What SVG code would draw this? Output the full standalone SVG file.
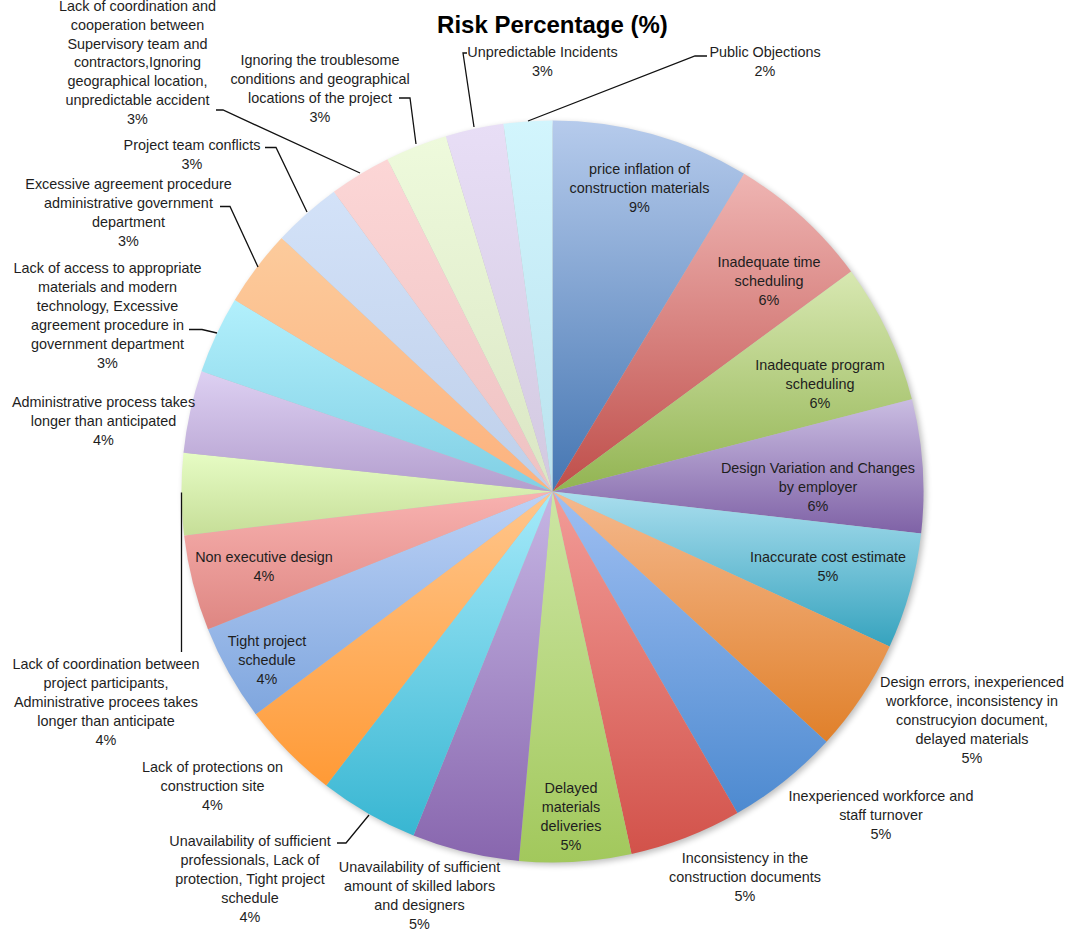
<svg xmlns="http://www.w3.org/2000/svg" width="1073" height="932" viewBox="0 0 1073 932">
  <style>
    text { font-family: "Liberation Sans", Arial, sans-serif; font-size: 14.4px; fill: #1e1e1e; text-anchor: middle; }
    .title { font-size: 24px; font-weight: bold; fill: #000; }
    .lead { fill: none; stroke: #111; stroke-width: 1.3; }
  </style>
  <defs>
    <filter id="pieShadow" x="-10%" y="-10%" width="120%" height="120%">
      <feGaussianBlur stdDeviation="3"/>
    </filter>
    <linearGradient id="g01" x1="0" y1="0" x2="0" y2="1"><stop offset="0" stop-color="#b6cbec"/><stop offset="1" stop-color="#4576b2"/></linearGradient>
    <linearGradient id="g02" x1="0" y1="0" x2="0" y2="1"><stop offset="0" stop-color="#efb5b3"/><stop offset="1" stop-color="#bf4e4a"/></linearGradient>
    <linearGradient id="g03" x1="0" y1="0" x2="0" y2="1"><stop offset="0" stop-color="#d8e8b2"/><stop offset="1" stop-color="#92b452"/></linearGradient>
    <linearGradient id="g04" x1="0" y1="0" x2="0" y2="1"><stop offset="0" stop-color="#cabde2"/><stop offset="1" stop-color="#7f62a6"/></linearGradient>
    <linearGradient id="g05" x1="0" y1="0" x2="0" y2="1"><stop offset="0" stop-color="#aadeee"/><stop offset="1" stop-color="#36a3be"/></linearGradient>
    <linearGradient id="g06" x1="0" y1="0" x2="0" y2="1"><stop offset="0" stop-color="#f5b98e"/><stop offset="1" stop-color="#e0802a"/></linearGradient>
    <linearGradient id="g07" x1="0" y1="0" x2="0" y2="1"><stop offset="0" stop-color="#9fbff2"/><stop offset="1" stop-color="#4d8ad0"/></linearGradient>
    <linearGradient id="g08" x1="0" y1="0" x2="0" y2="1"><stop offset="0" stop-color="#f29c98"/><stop offset="1" stop-color="#d2524a"/></linearGradient>
    <linearGradient id="g09" x1="0" y1="0" x2="0" y2="1"><stop offset="0" stop-color="#cde6a4"/><stop offset="1" stop-color="#a2c85c"/></linearGradient>
    <linearGradient id="g10" x1="0" y1="0" x2="0" y2="1"><stop offset="0" stop-color="#c6b6e4"/><stop offset="1" stop-color="#8866ae"/></linearGradient>
    <linearGradient id="g11" x1="0" y1="0" x2="0" y2="1"><stop offset="0" stop-color="#a6eafa"/><stop offset="1" stop-color="#38b6d2"/></linearGradient>
    <linearGradient id="g12" x1="0" y1="0" x2="0" y2="1"><stop offset="0" stop-color="#ffc68c"/><stop offset="1" stop-color="#ff9a36"/></linearGradient>
    <linearGradient id="g13" x1="0" y1="0" x2="0" y2="1"><stop offset="0" stop-color="#bcd2f6"/><stop offset="1" stop-color="#7fa6de"/></linearGradient>
    <linearGradient id="g14" x1="0" y1="0" x2="0" y2="1"><stop offset="0" stop-color="#f8b2b0"/><stop offset="1" stop-color="#de8682"/></linearGradient>
    <linearGradient id="g15" x1="0" y1="0" x2="0" y2="1"><stop offset="0" stop-color="#e6fcc4"/><stop offset="1" stop-color="#c6de98"/></linearGradient>
    <linearGradient id="g16" x1="0" y1="0" x2="0" y2="1"><stop offset="0" stop-color="#ddd0f2"/><stop offset="1" stop-color="#b39ece"/></linearGradient>
    <linearGradient id="g17" x1="0" y1="0" x2="0" y2="1"><stop offset="0" stop-color="#b2f0fc"/><stop offset="1" stop-color="#80cfe4"/></linearGradient>
    <linearGradient id="g18" x1="0" y1="0" x2="0" y2="1"><stop offset="0" stop-color="#fccb9c"/><stop offset="1" stop-color="#fcb27e"/></linearGradient>
    <linearGradient id="g19" x1="0" y1="0" x2="0" y2="1"><stop offset="0" stop-color="#d3e2f8"/><stop offset="1" stop-color="#becfea"/></linearGradient>
    <linearGradient id="g20" x1="0" y1="0" x2="0" y2="1"><stop offset="0" stop-color="#fcd6d6"/><stop offset="1" stop-color="#eec2c2"/></linearGradient>
    <linearGradient id="g21" x1="0" y1="0" x2="0" y2="1"><stop offset="0" stop-color="#eefadc"/><stop offset="1" stop-color="#dae6c4"/></linearGradient>
    <linearGradient id="g22" x1="0" y1="0" x2="0" y2="1"><stop offset="0" stop-color="#e8def6"/><stop offset="1" stop-color="#d2c9e0"/></linearGradient>
    <linearGradient id="g23" x1="0" y1="0" x2="0" y2="1"><stop offset="0" stop-color="#d2f5fd"/><stop offset="1" stop-color="#bae2ee"/></linearGradient>
  </defs>

  <rect width="1073" height="932" fill="#fff"/>

  <text class="title" x="552.5" y="33">Risk Percentage (%)</text>

  <!-- soft shadow under the pie -->
  <circle cx="555" cy="494" r="371" fill="#000" opacity="0.26" filter="url(#pieShadow)"/>

  <g id="slices">
    <g id="s01"><path d="M552.5,491.5 L552.5,120.5 A371,371 0 0,1 744.1,173.8 Z" fill="url(#g01)"/>
      <text x="639.5" y="174">price inflation of</text><text x="639.5" y="193">construction materials</text><text x="639.5" y="212">9%</text></g>
    <g id="s02"><path d="M552.5,491.5 L744.1,173.8 A371,371 0 0,1 851.1,271.4 Z" fill="url(#g02)"/>
      <text x="769" y="267">Inadequate time</text><text x="769" y="286">scheduling</text><text x="769" y="305">6%</text></g>
    <g id="s03"><path d="M552.5,491.5 L851.1,271.4 A371,371 0 0,1 911.9,399.2 Z" fill="url(#g03)"/>
      <text x="820" y="370">Inadequate program</text><text x="820" y="389">scheduling</text><text x="820" y="408">6%</text></g>
    <g id="s04"><path d="M552.5,491.5 L911.9,399.2 A371,371 0 0,1 921.1,533.5 Z" fill="url(#g04)"/>
      <text x="818" y="473">Design Variation and Changes</text><text x="818" y="492">by employer</text><text x="818" y="511">6%</text></g>
    <g id="s05"><path d="M552.5,491.5 L921.1,533.5 A371,371 0 0,1 889.6,646.5 Z" fill="url(#g05)"/>
      <text x="828" y="562">Inaccurate cost estimate</text><text x="828" y="581">5%</text></g>
    <g id="s06"><path d="M552.5,491.5 L889.6,646.5 A371,371 0 0,1 826.5,741.7 Z" fill="url(#g06)"/>
      <text x="972" y="687">Design errors, inexperienced</text><text x="972" y="706">workforce, inconsistency in</text><text x="972" y="725">construcyion document,</text><text x="972" y="744">delayed materials</text><text x="972" y="763">5%</text></g>
    <g id="s07"><path d="M552.5,491.5 L826.5,741.7 A371,371 0 0,1 737.4,813.1 Z" fill="url(#g07)"/>
      <text x="881" y="801">Inexperienced workforce and</text><text x="881" y="820">staff turnover</text><text x="881" y="839">5%</text></g>
    <g id="s08"><path d="M552.5,491.5 L737.4,813.1 A371,371 0 0,1 631.5,854.0 Z" fill="url(#g08)"/>
      <text x="745" y="863">Inconsistency in the</text><text x="745" y="882">construction documents</text><text x="745" y="901">5%</text></g>
    <g id="s09"><path d="M552.5,491.5 L631.5,854.0 A371,371 0 0,1 518.9,861.0 Z" fill="url(#g09)"/>
      <text x="571" y="793">Delayed</text><text x="571" y="812">materials</text><text x="571" y="831">deliveries</text><text x="571" y="850">5%</text></g>
    <g id="s10"><path d="M552.5,491.5 L518.9,861.0 A371,371 0 0,1 413.5,835.5 Z" fill="url(#g10)"/>
      <text x="419.5" y="872">Unavailability of sufficient</text><text x="419.5" y="891">amount of skilled labors</text><text x="419.5" y="910">and designers</text><text x="419.5" y="929">5%</text></g>
    <g id="s11"><path d="M552.5,491.5 L413.5,835.5 A371,371 0 0,1 326.2,785.4 Z" fill="url(#g11)"/>
      <text x="250" y="846">Unavailability of sufficient</text><text x="250" y="865">professionals, Lack of</text><text x="250" y="884">protection, Tight project</text><text x="250" y="903">schedule</text><text x="250" y="922">4%</text></g>
    <g id="s12"><path d="M552.5,491.5 L326.2,785.4 A371,371 0 0,1 255.8,714.3 Z" fill="url(#g12)"/>
      <text x="212.5" y="772">Lack of protections on</text><text x="212.5" y="791">construction site</text><text x="212.5" y="810">4%</text></g>
    <g id="s13"><path d="M552.5,491.5 L255.8,714.3 A371,371 0 0,1 208.0,629.3 Z" fill="url(#g13)"/>
      <text x="267" y="646">Tight project</text><text x="267" y="665">schedule</text><text x="267" y="684">4%</text></g>
    <g id="s14"><path d="M552.5,491.5 L208.0,629.3 A371,371 0 0,1 184.1,535.4 Z" fill="url(#g14)"/>
      <text x="264" y="562">Non executive design</text><text x="264" y="581">4%</text></g>
    <g id="s15"><path d="M552.5,491.5 L184.1,535.4 A371,371 0 0,1 183.5,452.7 Z" fill="url(#g15)"/>
      <text x="106" y="669">Lack of coordination between</text><text x="106" y="688">project participants,</text><text x="106" y="707">Administrative procees takes</text><text x="106" y="726">longer than anticipate</text><text x="106" y="745">4%</text></g>
    <g id="s16"><path d="M552.5,491.5 L183.5,452.7 A371,371 0 0,1 201.5,371.3 Z" fill="url(#g16)"/>
      <text x="103.5" y="407">Administrative process takes</text><text x="103.5" y="426">longer than anticipated</text><text x="103.5" y="445">4%</text></g>
    <g id="s17"><path d="M552.5,491.5 L201.5,371.3 A371,371 0 0,1 234.8,299.9 Z" fill="url(#g17)"/>
      <text x="107.5" y="273">Lack of access to appropriate</text><text x="107.5" y="292">materials and modern</text><text x="107.5" y="311">technology, Excessive</text><text x="107.5" y="330">agreement procedure in</text><text x="107.5" y="349">government department</text><text x="107.5" y="368">3%</text></g>
    <g id="s18"><path d="M552.5,491.5 L234.8,299.9 A371,371 0 0,1 281.6,238.0 Z" fill="url(#g18)"/>
      <text x="128.5" y="189">Excessive agreement procedure</text><text x="128.5" y="208">administrative government</text><text x="128.5" y="227">department</text><text x="128.5" y="246">3%</text></g>
    <g id="s19"><path d="M552.5,491.5 L281.6,238.0 A371,371 0 0,1 333.9,191.7 Z" fill="url(#g19)"/>
      <text x="192" y="150">Project team conflicts</text><text x="192" y="169">3%</text></g>
    <g id="s20"><path d="M552.5,491.5 L333.9,191.7 A371,371 0 0,1 387.5,159.2 Z" fill="url(#g20)"/>
      <text x="137.5" y="11">Lack of coordination and</text><text x="137.5" y="29.5">cooperation between</text><text x="137.5" y="48.5">Supervisory team and</text><text x="137.5" y="67">contractors,Ignoring</text><text x="137.5" y="86">geographical location,</text><text x="137.5" y="105">unpredictable accident</text><text x="137.5" y="124">3%</text></g>
    <g id="s21"><path d="M552.5,491.5 L387.5,159.2 A371,371 0 0,1 445.9,136.2 Z" fill="url(#g21)"/>
      <text x="320" y="65">Ignoring the troublesome</text><text x="320" y="84">conditions and geographical</text><text x="320" y="103">locations of the project</text><text x="320" y="122">3%</text></g>
    <g id="s22"><path d="M552.5,491.5 L445.9,136.2 A371,371 0 0,1 503.4,123.8 Z" fill="url(#g22)"/>
      <text x="542.5" y="57">Unpredictable Incidents</text><text x="542.5" y="76">3%</text></g>
    <g id="s23"><path d="M552.5,491.5 L503.4,123.8 A371,371 0 0,1 552.5,120.5 Z" fill="url(#g23)"/>
      <text x="765" y="57">Public Objections</text><text x="765" y="76">2%</text></g>
  </g>

  <!-- leader lines from outside labels to their slices -->
  <g id="connectors">
    <polyline class="lead" points="707,56 695,56 528,121"/>
    <polyline class="lead" points="467,53 463,53 474,127"/>
    <polyline class="lead" points="399,98 410,98 416,144"/>
    <polyline class="lead" points="216,110 223,110 360,173"/>
    <polyline class="lead" points="265,147.5 276,147.5 307,212"/>
    <polyline class="lead" points="220,206.5 230,206.5 258,267"/>
    <polyline class="lead" points="189,329.5 202,329.5 217,333"/>
    <polyline class="lead" points="181.5,492.5 181.5,652"/>
    <polyline class="lead" points="337,843 346,843 369,815"/>
  </g>
</svg>
